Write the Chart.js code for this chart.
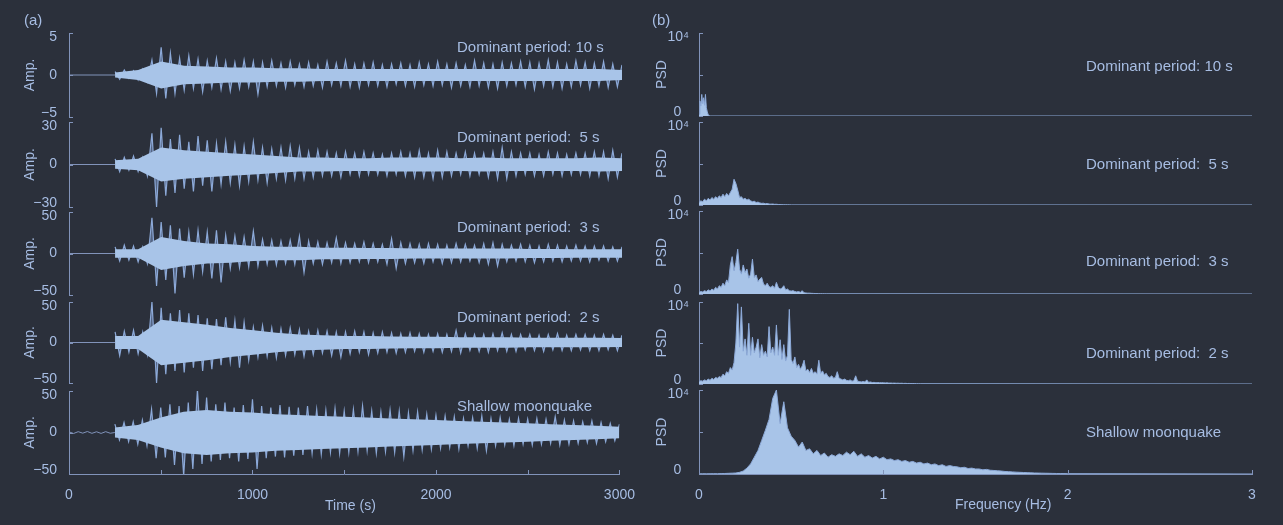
<!DOCTYPE html>
<html><head><meta charset="utf-8">
<script src="https://cdn.jsdelivr.net/npm/chart.js@4.4.1/dist/chart.umd.min.js"></script>
<style>
html,body{margin:0;padding:0;background:#2b303b;width:1283px;height:525px;overflow:hidden;}
#wrap{position:relative;width:1283px;height:525px;}
canvas{position:absolute;}
.txt{position:absolute;font-family:'Liberation Sans',Arial,sans-serif;color:#a7bde3;white-space:pre;line-height:18px;font-size:15px;}
</style></head><body><div id="wrap"></div>
<script>
// ---------------- DATA ----------------
// Seismograms: signed peak amplitudes every 25 s from 250 s to 3000 s
const timeStart = 250, timeStep = 25, timeMax = 3000;
const preStep = 25;
const seis10 = [
0.4,-0.5,0.6,-0.4,0.5,-0.6,0.7,-0.8,1.8,-2.2,
3.3,-2.8,2.6,-2.2,2.0,-1.8,2.3,-1.6,1.9,-2.0,
1.7,-1.5,2.0,-1.7,1.6,-1.9,1.5,-1.6,1.8,-1.4,
1.6,-2.3,1.5,-1.4,1.7,-1.3,1.4,-1.5,1.6,-1.2,
1.3,-1.4,1.5,-1.3,1.2,-1.5,1.6,-1.2,1.4,-1.3,
1.7,-1.4,1.3,-1.5,1.4,-1.2,1.5,-1.3,1.2,-1.4,
1.3,-1.1,1.4,-1.3,1.2,-1.4,1.5,-1.2,1.3,-1.3,
1.6,-1.2,1.3,-1.5,1.4,-1.3,1.2,-1.4,1.7,-1.3,
1.4,-1.5,1.3,-1.6,1.5,-1.3,1.4,-1.2,1.6,-1.4,
1.5,-1.7,1.4,-1.3,1.8,-1.4,1.5,-1.6,1.3,-1.4,
1.7,-1.2,1.5,-1.6,1.4,-1.3,1.6,-1.5,1.3,-1.4,
1.2];
const seis5 = [
4,-5,5,-4,6,-5,5,-8,22,-30,
26,-22,18,-20,21,-17,16,-19,20,-15,
17,-19,15,-14,16,-13,14,-15,13,-12,
16,-11,12,-13,11,-10,12,-11,13,-10,
12,-10,9,-9,10,-8,9,-8,8,-9,
9,-7,8,-8,9,-7,8,-7,7,-8,
8,-7,9,-8,8,-9,10,-9,8,-10,
10,-9,9,-8,8,-7,9,-8,8,-7,
8,-9,9,-10,12,-10,9,-8,8,-7,
8,-8,7,-8,9,-7,8,-8,7,-7,
8,-7,8,-8,9,-8,9,-10,10,-9,
8];
const seis3 = [
8,-9,10,-8,9,-10,8,-12,43,-39,
38,-32,34,-48,30,-29,26,-25,28,-22,
26,-30,28,-35,22,-18,21,-17,20,-16,
27,-15,17,-13,16,-14,15,-12,16,-13,
21,-23,15,-12,14,-13,13,-11,19,-12,
13,-11,12,-10,14,-11,12,-10,11,-13,
18,-18,13,-12,12,-11,11,-12,12,-10,
11,-12,10,-11,12,-10,11,-9,10,-11,
12,-13,13,-15,11,-10,10,-9,11,-10,
10,-11,9,-10,11,-9,10,-10,9,-9,
10,-9,9,-10,9,-8,9,-9,8,-9,
8];
const seis2 = [
13,-16,14,-12,15,-14,13,-15,50,-50,
43,-39,36,-35,40,-37,36,-31,34,-35,
30,-33,29,-28,31,-24,27,-31,25,-22,
19,-18,21,-17,18,-19,17,-16,18,-15,
16,-17,14,-15,15,-13,14,-16,13,-18,
13,-14,14,-12,13,-15,12,-13,13,-12,
12,-13,11,-12,12,-11,11,-12,10,-11,
11,-12,10,-11,15,-13,11,-10,10,-11,
10,-12,11,-10,12,-11,10,-11,10,-9,
10,-10,9,-11,10,-9,11,-10,9,-10,
10,-9,10,-10,9,-10,10,-9,9,-10,
9];
const seisMoonPre = [0.8,-1.2,1,-0.8,1.2,-1,0.9,-1.1,1,-0.9];
const seisMoon = [
10,-9,12,-11,13,-14,15,-16,28,-31,
30,-30,34,-39,32,-52,36,-44,52,-38,
42,-35,34,-33,36,-31,30,-35,33,-32,
40,-44,32,-31,30,-29,33,-30,31,-28,
30,-27,32,-25,28,-26,27,-24,29,-25,
26,-24,28,-23,32,-22,26,-25,25,-23,
27,-24,26,-29,24,-22,25,-21,22,-20,
21,-19,20,-18,19,-20,17,-16,18,-19,
20,-22,17,-16,18,-15,16,-16,17,-14,
16,-15,17,-14,16,-13,19,-15,15,-14,
14,-13,13,-12,14,-13,12,-11,11,-10,
10];

// Dense core of each trace: half-width every 125 s from 250 s to 3000 s
const coreStep = 125;
const core10 = [0.3,0.6,1.6,1.1,1.0,0.9,0.9,0.8,0.8,0.7,0.7,0.7,0.7,0.7,0.7,0.7,0.7,0.7,0.7,0.7,0.7,0.7,0.6];
const core5 = [3,4,12,10,9,8,7,6,5,5,4.5,4.5,5,5,5,4.5,5,4.5,4.5,4.5,4.5,5,4.5];
const core3 = [5,5,20,15,12,11,9,8,8,7,7,6.5,6.5,6,6,6,6,6,5.5,5.5,5,5,5];
const core2 = [8,8,28,25,22,18,15,12,10,9,8,8,7.5,7,7,6.5,6.5,6.5,6,6,6,6,5.5];
const coreMoon = [6,9,18,25,27,25,24,22,21,20,19,18,17,16,15,14,13,12,11,10,9,8,7];

// Power spectral densities (frequency from 0 Hz with given step)
const freqMax = 3;
const psd10Step = 0.005;
const psd10 = [200,1800,1200,2600,1500,2200,1300,2600,1000,500,150,50,0];
const psd5Step = 0.01;
const psd5 = [
300,500,400,700,500,800,600,900,700,1000,
800,1100,900,1300,1000,1400,1100,1500,1900,3100,
2600,1800,900,1000,700,800,600,700,500,400,
450,300,350,250,200,220,150,180,120,100,
120,80,90,60,50,40,30,30,20,20,
10];
const psd3Step = 0.01;
const psd3 = [
200,300,250,400,300,500,350,600,450,800,
600,1000,800,1300,1000,1700,1400,3500,4500,2800,
3800,5400,3000,2400,3500,2600,3000,1900,2400,4200,
2000,2300,1500,1800,2000,1200,1000,1300,900,800,
1000,700,1400,800,600,700,1000,500,600,400,
350,400,300,250,300,200,400,150,120,100,
100,80,70,60,50,40,40,30,30,20,
20];
const psd2Step = 0.01;
const psd2 = [
300,400,350,500,400,600,450,700,550,800,
700,900,800,1200,1000,1500,1300,2000,1700,2600,
5000,9800,4500,9400,4000,5500,3500,7400,3500,5700,
3800,4500,5500,3200,4800,3500,4000,3300,7000,3800,
4500,3500,7200,3500,5400,3000,4800,2800,3500,9100,
3000,2500,3300,2000,2400,1800,2200,2900,1600,1800,
1400,1900,1300,1500,1200,2900,1300,1600,1100,1300,
900,800,1000,700,800,1500,700,600,500,600,
450,400,500,350,400,1000,350,300,250,300,
250,500,200,250,180,200,150,180,150,160,
150,130,140,110,120,100,110,90,100,80,
90,70,80,60,70,50,60,50,40,40,
30];
const psdMoonStep = 0.02;
const psdMoon = [
20,30,25,30,40,35,50,60,80,100,
120,200,350,700,1200,2000,2800,4000,5200,6500,
9000,10000,6000,8600,5500,4500,4000,3200,3800,2800,
3000,2400,2800,2200,2500,2000,2300,2100,2400,2200,
2600,2300,2700,2100,2400,2000,2200,1900,2100,1800,
2000,1700,1800,1600,1700,1500,1600,1400,1500,1300,
1400,1200,1300,1100,1200,1000,1100,900,1000,900,
850,750,800,650,700,600,600,500,550,450,
420,380,350,300,280,250,220,200,180,160,
140,120,110,100,90,80,70,60,55,50,
40];

// Axis ranges / tick steps / texts
const ampLimits = [5, 30, 50, 50, 50];
const psdLimit = 10000;
const rowLabels = ['Dominant period: 10 s','Dominant period:  5 s','Dominant period:  3 s','Dominant period:  2 s','Shallow moonquake'];
const timeTickStep = 500, timeLabelStep = 1000;
const freqTickStep = 1;

// ---------------- STYLE / LAYOUT ----------------
const TEXT = '#a7bde3', AXIS = '#8193ba', LINE = '#8ca9d8', FILL = '#a8c4e8', HALO = 'rgba(128,156,205,0.5)';
const FONT = "'Liberation Sans', Arial, sans-serif";
Chart.defaults.font.family = FONT;
Chart.defaults.font.size = 14;
Chart.defaults.color = TEXT;

const leftTops = [33,122,212,302,391], leftBots = [117,207,295,383,474];
const rightTops = [33,122,211,302,390], rightBots = [116,205,294,384,474];
const wrap = document.getElementById('wrap');

const inwardTicks = {
  id: 'inwardTicks',
  afterDatasetsDraw(chart) {
    const ctx = chart.ctx, a = chart.chartArea, len = 4;
    ctx.save(); ctx.strokeStyle = AXIS; ctx.lineWidth = 1;
    const ys = chart.scales.y;
    ys.ticks.forEach(t => {
      const p = Math.round(ys.getPixelForValue(t.value)) + 0.5;
      ctx.beginPath(); ctx.moveTo(a.left, p); ctx.lineTo(a.left + len, p); ctx.stroke();
    });
    const xs = chart.scales.x;
    if (xs.options.display) {
      xs.ticks.forEach(t => {
        const p = Math.round(xs.getPixelForValue(t.value)) + 0.5;
        ctx.beginPath(); ctx.moveTo(p, a.bottom); ctx.lineTo(p, a.bottom - len); ctx.stroke();
      });
    }
    ctx.restore();
  }
};

const minus = v => (v < 0 ? '\u2212' + Math.abs(v) : String(v));
// first/last y labels sit just inside the axis ends (two-line trick with compressed line height)
const innerLabel = (text, v, lo, hi) => (v === hi ? ['', text] : v === lo ? [text, ''] : text);

function makeChart(cfg) {
  const cv = document.createElement('canvas');
  const padT = 12, padB = cfg.bottom ? 0 : 12, xH = 44;
  const h = padT + (cfg.bot - cfg.top) + (cfg.bottom ? xH : padB);
  cv.width = cfg.cw; cv.height = h;
  cv.style.left = cfg.cl + 'px'; cv.style.top = (cfg.top - padT) + 'px';
  cv.style.width = cfg.cw + 'px'; cv.style.height = h + 'px';
  wrap.appendChild(cv);
  const xScale = {
    type: 'linear', min: 0, max: cfg.xMax, display: !!cfg.bottom, offset: false,
    grid: { display: false }, border: { display: true, color: AXIS, width: 1 },
    ticks: { stepSize: cfg.xStep, autoSkip: false, maxRotation: 0, padding: 5, color: TEXT,
             callback: cfg.xLabel }
  };
  if (cfg.bottom) xScale.afterFit = s => { s.height = xH; };
  new Chart(cv, {
    type: 'line',
    data: { datasets: cfg.datasets },
    options: {
      responsive: false, animation: false, devicePixelRatio: 1,
      layout: { padding: { left: cfg.padL, right: cfg.padR, top: padT, bottom: padB } },
      plugins: { legend: { display: false }, tooltip: { enabled: false } },
      scales: {
        x: xScale,
        y: {
          type: 'linear', min: cfg.yMin, max: cfg.yMax,
          grid: { display: false }, border: { display: true, color: AXIS, width: 1 },
          ticks: { stepSize: cfg.yStep, autoSkip: false, padding: cfg.tickPad, color: TEXT,
                   font: { size: 14, lineHeight: 0.55 },
                   callback: v => innerLabel(cfg.yLabel(v), v, cfg.yMin, cfg.yMax) },
          title: { display: true, text: cfg.yTitle, color: TEXT, font: { size: 14 } },
          afterFit: s => { s.width = cfg.axisW; }
        }
      }
    },
    plugins: [inwardTicks]
  });
}

// seismogram: quiet line before onset, zig-zag trace through the peaks, light dense core on top
function seisDatasets(vals, core, pre) {
  const quiet = [];
  if (pre) pre.forEach((v, i) => quiet.push({ x: i * preStep, y: v }));
  else quiet.push({ x: 0, y: 0 });
  quiet.push({ x: timeStart, y: 0 });
  const pts = vals.map((v, i) => ({ x: timeStart + i * timeStep, y: v }));
  const up = core.map((w, i) => ({ x: timeStart + i * coreStep, y: w }));
  const dn = core.map((w, i) => ({ x: timeStart + i * coreStep, y: -w }));
  return [
    { type: 'line', data: up, borderWidth: 0, pointRadius: 0, fill: false, order: 0 },
    { type: 'line', data: dn, borderWidth: 0, pointRadius: 0, fill: '-1', backgroundColor: FILL, order: 0 },
    { type: 'line', data: quiet, borderColor: AXIS, borderWidth: 1, pointRadius: 0, fill: false, order: 2 },
    { type: 'line', data: pts, borderColor: LINE, borderWidth: 1.2, pointRadius: 0, fill: 'origin',
      backgroundColor: HALO, tension: 0, order: 1 }
  ];
}
function psdDatasets(vals, step) {
  const pts = vals.map((v, i) => ({ x: i * step, y: v }));
  pts.push({ x: freqMax, y: 0 });
  return [{ type: 'line', data: pts, borderColor: LINE, backgroundColor: FILL, fill: 'origin',
            borderWidth: 1, pointRadius: 0, tension: 0 }];
}

const seisSets = [seisDatasets(seis10, core10), seisDatasets(seis5, core5), seisDatasets(seis3, core3),
                  seisDatasets(seis2, core2), seisDatasets(seisMoon, coreMoon, seisMoonPre)];
const psdSets = [psdDatasets(psd10, psd10Step), psdDatasets(psd5, psd5Step), psdDatasets(psd3, psd3Step), psdDatasets(psd2, psd2Step), psdDatasets(psdMoon, psdMoonStep)];

for (let i = 0; i < 5; i++) {
  const bottom = i === 4;
  makeChart({
    cl: 0, cw: 640, padL: 18, padR: 18, axisW: 51, tickPad: 4,
    top: leftTops[i], bot: leftBots[i], bottom,
    datasets: seisSets[i], xMax: timeMax, xStep: timeTickStep,
    xLabel: v => (v % timeLabelStep === 0 ? String(v) : ''),
    yMin: -ampLimits[i], yMax: ampLimits[i], yStep: ampLimits[i],
    yLabel: v => minus(v), yTitle: 'Amp.'
  });
  makeChart({
    cl: 640, cw: 643, padL: 10, padR: 31, axisW: 49, tickPad: 2,
    top: rightTops[i], bot: rightBots[i], bottom,
    datasets: psdSets[i], xMax: freqMax, xStep: freqTickStep,
    xLabel: v => String(v),
    yMin: 0, yMax: psdLimit, yStep: psdLimit / 2,
    yLabel: v => (v === psdLimit ? '10\u2074' : v === 0 ? '0\u2007' : ''), yTitle: 'PSD'
  });
}

// ---------------- free texts ----------------
function addText(str, left, cy, size) {
  const d = document.createElement('div');
  d.className = 'txt'; d.textContent = str;
  d.style.left = left + 'px'; d.style.top = (cy - 9) + 'px';
  if (size) d.style.fontSize = size + 'px';
  wrap.appendChild(d);
}
addText('(a)', 24, 20);
addText('(b)', 652, 20);
const leftLabelY = [47,137,227,317,406];
const rightLabelY = [66,164,261,353,432];
rowLabels.forEach((s, i) => { addText(s, 457, leftLabelY[i]); addText(s, 1086, rightLabelY[i]); });
addText('Time (s)', 325, 505, 14);
addText('Frequency (Hz)', 955, 504, 14);
</script></body></html>
